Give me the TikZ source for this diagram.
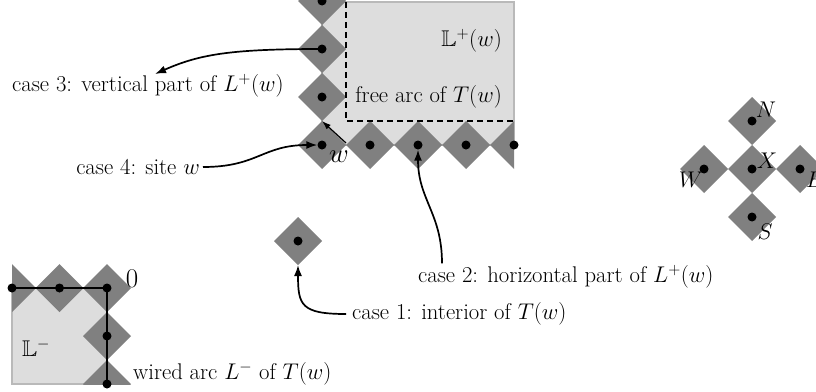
\documentclass[tikz,border=0pt]{standalone}
\usepackage{fix-cm}
\usepackage{amssymb}
\usetikzlibrary{shapes.geometric,arrows.meta}
\definecolor{dgray}{RGB}{128,128,128}
\definecolor{lgray}{RGB}{221,221,221}
\definecolor{bgray}{RGB}{185,185,185}
\begin{document}
\begin{tikzpicture}[x=1pt,y=-1pt,
  sq/.style={diamond,fill=dgray,minimum width=48pt,minimum height=48pt,inner sep=0pt,outer sep=0pt},
  pt/.style={circle,fill=black,minimum size=9pt,inner sep=0pt},
  lab/.style={inner sep=0pt,font=\fontsize{22.7}{27}\selectfont},
  biglab/.style={inner sep=0pt,font=\fontsize{27}{32}\selectfont},
  arr/.style={line width=1.7pt,-{Latex[length=11pt,width=8pt]}},
  bl/.style={line width=1.7pt}]
\clip (0,0) rectangle (816,391);
% ---------- top right region ----------
\fill[lgray,draw=bgray,line width=1.5pt] (322,2) rectangle (514,145);
\begin{scope}
  \clip (280,-10) rectangle (514,200);
  \node[sq] (v3) at (322,1) {};
  \node[sq] (v2) at (322,49) {};
  \node[sq] (v1) at (322,97) {};
  \node[sq] (w0) at (322,145) {};
  \node[sq] (h1) at (370,145) {};
  \node[sq] (h2) at (418,145) {};
  \node[sq] (h3) at (466,145) {};
  \node[sq] (h4) at (514,145) {};
\end{scope}
\draw[line width=1.7pt,dash pattern=on 6pt off 4pt] (346,2) -- (346,121) -- (514,121);
\node[pt] (pv3) at (v3) {};
\node[pt] (pv2) at (v2) {};
\node[pt] (pv1) at (v1) {};
\node[pt] (pw0) at (w0) {};
\node[pt] (ph1) at (h1) {};
\node[pt] (ph2) at (h2) {};
\node[pt] (ph3) at (h3) {};
\node[pt] (ph4) at (h4) {};
\node[lab,anchor=east] (Lp) at (502,41) {$\mathbb{L}^+(w)$};
\node[lab,anchor=east] (fa) at (502,97) {free arc of $T(w)$};
\node[biglab] (wl) at (339,157) {$w$};
\coordinate (wa) at (346,143);
\draw[line width=1.2pt,-{Latex[length=9pt,width=6pt]}] (wa) -- (v1.south);
% ---------- case labels ----------
\node[lab,anchor=west] (c3) at (12,86) {case 3: vertical part of $L^+(w)$};
\node[lab,anchor=east] (c4) at (200,167) {case 4: site $w$};
\node[lab,anchor=west] (c2) at (418,277) {case 2: horizontal part of $L^+(w)$};
\node[lab,anchor=west] (c1) at (352,314) {case 1: interior of $T(w)$};
% ---------- interior site ----------
\node[sq] (i1) at (298,241) {};
\node[pt] (pi1) at (i1) {};
% ---------- connectors ----------
\coordinate (t3) at (155,74);
\draw[arr] (pv2.center) .. controls +(-90,0) and +(45,-20) .. (t3);
\draw[arr] ([xshift=3pt]c4.east) .. controls +(55,0) and +(-55,0) .. (pw0.west);
\draw[arr] ([xshift=24pt,yshift=2pt]c2.north west) .. controls +(0,-50) and +(0,50) .. (ph2.south);
\draw[arr] ([xshift=-6pt]c1.west) .. controls +(-45,0) and +(0,40) .. (i1.south);
% ---------- compass ----------
\node[sq] (dN) at (752,121) {};
\node[sq] (dW) at (704,169) {};
\node[sq] (dX) at (752,169) {};
\node[sq] (dE) at (800,169) {};
\node[sq] (dS) at (752,217) {};
\foreach \n in {N,W,X,E,S} {\node[pt] (p\n) at (d\n) {};}
\node[lab] (lN) at (766,110) {$N$};
\node[lab] (lX) at (767,161) {$X$};
\node[lab] (lW) at (691,180) {$W$};
\node[lab] (lE) at (815,180) {$E$};
\node[lab] (lS) at (765,232) {$S$};
% ---------- bottom left ----------
\fill[lgray,draw=bgray,line width=1.5pt] (12,288) rectangle (107,384);
\begin{scope}
  \clip (12,240) rectangle (200,384);
  \node[sq] (b1) at (12,288) {};
  \node[sq] (b2) at (59.5,288) {};
  \node[sq] (b3) at (107,288) {};
  \node[sq] (b4) at (107,336) {};
  \node[sq] (b5) at (107,384) {};
\end{scope}
\foreach \n in {1,...,5} {\node[pt] (pb\n) at (b\n) {};}
\draw[bl] (pb1.center) -- (pb3.center) -- (pb5.center);
\node[biglab] (zero) at (132,279) {$0$};
\node[lab] (Lm) at (36,348) {$\mathbb{L}^-$};
\node[lab,anchor=west] (wa2) at (133,374) {wired arc $L^-$ of $T(w)$};
\end{tikzpicture}
\end{document}
